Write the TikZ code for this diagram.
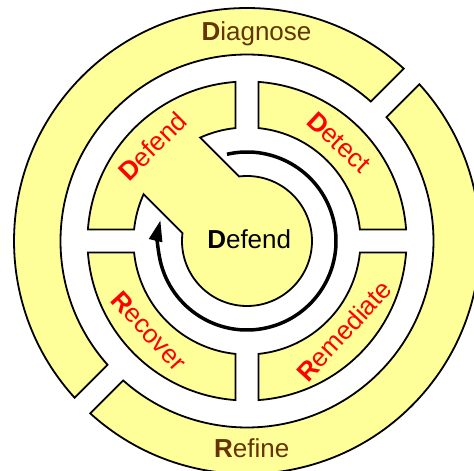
\documentclass[tikz,border=0pt]{standalone}
\usepackage{fontspec}
\setmainfont{Liberation Sans}
\usetikzlibrary{arrows.meta}
\definecolor{ylw}{HTML}{FFFF99}
\definecolor{brn}{HTML}{663300}
\tikzset{
  seg/.style={fill=ylw, draw=black, line width=1.8pt, line join=miter},
  outerlbl/.style={text=brn, font=\fontsize{26}{26}\selectfont, inner sep=0pt, anchor=base},
  redlbl/.style={text=red, font=\fontsize{26}{26}\selectfont, inner sep=0pt},
  centerlbl/.style={text=black, font=\fontsize{26}{26}\selectfont, inner sep=0pt, anchor=base},
  arrowline/.style={line width=3.5pt, -{Triangle[length=21pt,width=13pt]}}
}
\begin{document}
\begin{tikzpicture}[x=1pt,y=1pt]
\useasboundingbox (0,0) rectangle (474,471);
\clip (0,0) rectangle (474,471);
\begin{scope}[shift={(247,230)}]
  % radii
  \pgfmathsetmacro{\Ro}{233}
  \pgfmathsetmacro{\Ri}{186.5}
  \pgfmathsetmacro{\Qo}{159.5}
  \pgfmathsetmacro{\Qi}{113.5}
  \pgfmathsetmacro{\Dr}{65}
  \pgfmathsetmacro{\ao}{asin(11/\Ro)}
  \pgfmathsetmacro{\ai}{asin(11/\Ri)}
  \pgfmathsetmacro{\bo}{asin(11.5/\Qo)}
  \pgfmathsetmacro{\bi}{asin(11.5/\Qi)}
  \pgfmathsetmacro{\cq}{asin(40/\Qi)}
  \pgfmathsetmacro{\cd}{asin(40/\Dr)}
  % outer ring: Diagnose segment
  \draw[seg] (45+\ao:\Ro) arc[start angle=45+\ao, end angle=225-\ao, radius=\Ro]
    -- (225-\ai:\Ri) arc[start angle=225-\ai, end angle=45+\ai, radius=\Ri] -- cycle;
  % outer ring: Refine segment
  \draw[seg] (225+\ao:\Ro) arc[start angle=225+\ao, end angle=405-\ao, radius=\Ro]
    -- (405-\ai:\Ri) arc[start angle=405-\ai, end angle=225+\ai, radius=\Ri] -- cycle;
  % Detect quadrant
  \draw[seg] (\bo:\Qo) arc[start angle=\bo, end angle=90-\bo, radius=\Qo]
    -- (90-\bi:\Qi) arc[start angle=90-\bi, end angle=\bi, radius=\Qi] -- cycle;
  % Remediate quadrant
  \draw[seg] (-90+\bo:\Qo) arc[start angle=-90+\bo, end angle=-\bo, radius=\Qo]
    -- (-\bi:\Qi) arc[start angle=-\bi, end angle=-90+\bi, radius=\Qi] -- cycle;
  % Recover quadrant
  \draw[seg] (180+\bo:\Qo) arc[start angle=180+\bo, end angle=270-\bo, radius=\Qo]
    -- (270-\bi:\Qi) arc[start angle=270-\bi, end angle=180+\bi, radius=\Qi] -- cycle;
  % Defend quadrant joined to the centre disc
  \draw[seg] (90+\bo:\Qo) arc[start angle=90+\bo, end angle=180-\bo, radius=\Qo]
    -- (180-\bi:\Qi) arc[start angle=180-\bi, end angle=135+\cq, radius=\Qi]
    -- (135+\cd:\Dr) arc[start angle=135+\cd, end angle=495-\cd, radius=\Dr]
    -- (135-\cq:\Qi) arc[start angle=135-\cq, end angle=90+\bi, radius=\Qi] -- cycle;
  % cycle arrow
  \draw[arrowline] (103:89) arc[start angle=103, end angle=-193.5, radius=89];
  % labels
  \node[outerlbl] (diag) at (9.5,200.5) {\textbf{D}iagnose};
  \node[outerlbl] (refine) at (4.7,-216.3) {\textbf{R}efine};
  \node[centerlbl] (ctr) at (2.2,-7.3) {\textbf{D}efend};
  \node[redlbl, rotate=-43] (detect) at (47:135) {\textbf{D}etect};
  \node[redlbl, rotate=45] (defend) at (135:134) {\textbf{D}efend};
  \node[redlbl, rotate=-47.5] (recover) at (222.5:133) {\textbf{R}ecover};
  \node[redlbl, rotate=47.3] (remed) at (-42.7:132) {\textbf{R}emediate};
\end{scope}
\end{tikzpicture}
\end{document}
